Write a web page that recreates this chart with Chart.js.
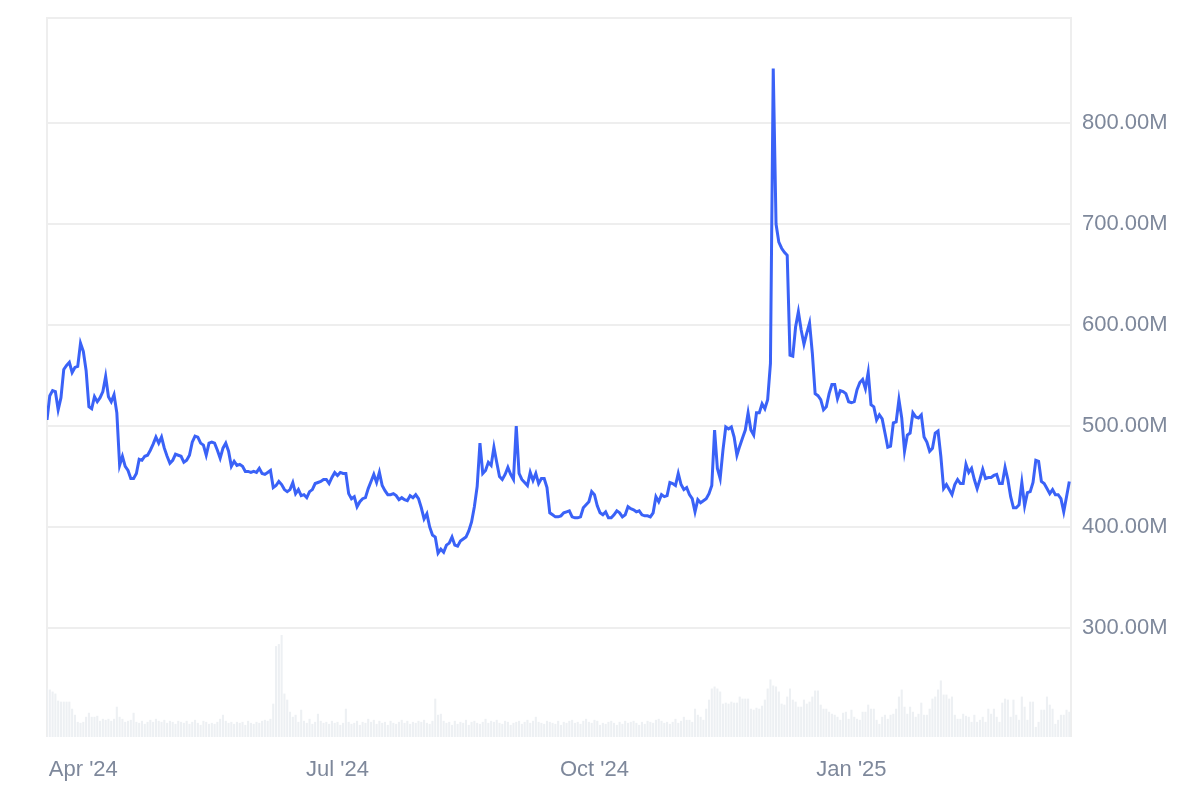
<!DOCTYPE html>
<html>
<head>
<meta charset="utf-8">
<title>Market cap</title>
<script src="https://cdn.jsdelivr.net/npm/chart.js@4.4.1/dist/chart.umd.min.js"></script>
<style>
    html, body { margin: 0; padding: 0; background: #ffffff; }
    #wrap { width: 1200px; height: 800px; }
</style>
</head>
<body>
<div id="wrap"><canvas id="chart" width="1200" height="800"></canvas></div>
<script>
// Daily series, one value per day starting at startDate
const startDate = '2024-03-19';

// Market cap, millions USD
const price = [
    506, 530, 535, 534, 516, 528, 556, 560, 563, 553,
    558, 559, 582, 574, 555, 519, 517, 529, 524, 528,
    534, 549, 529, 524, 531, 513, 461, 470, 460, 456,
    448, 448, 453, 467, 466, 470, 471, 476, 482, 489,
    483, 489, 478, 470, 463, 466, 472, 471, 470, 464,
    466, 471, 484, 490, 489, 483, 481, 471, 483, 484,
    483, 476, 468, 478, 483, 475, 460, 465, 461, 462,
    460, 455, 455, 454, 455, 454, 458, 453, 452, 454,
    456, 439, 441, 445, 442, 437, 435, 437, 444, 433,
    437, 431, 432, 429, 435, 437, 443, 444, 445, 447,
    447, 443, 449, 454, 451, 454, 453, 453, 433, 428,
    430, 420, 425, 428, 429, 438, 445, 452, 444, 454,
    441, 436, 432, 432, 433, 431, 427, 429, 427, 426,
    431, 429, 432, 428, 419, 408, 413, 400, 392, 390,
    374, 378, 375, 382, 384, 390, 382, 381, 386, 388,
    390, 396, 405, 420, 440, 483, 453, 456, 464, 461,
    479, 464, 450, 447, 452, 459, 452, 447, 500, 453,
    447, 444, 441, 454, 446, 453, 443, 448, 448, 439,
    414, 412, 410, 410, 411, 414, 415, 416, 410, 409,
    409, 410, 419, 422, 425, 435, 432, 421, 414, 412,
    415, 409, 409, 412, 416, 414, 410, 412, 420, 418,
    417, 415, 416, 412, 411, 411, 410, 414, 430, 425,
    432, 430, 431, 444, 443, 441, 453, 442, 437, 439,
    432, 428, 415, 427, 424, 426, 428, 433, 441, 496,
    458, 448, 476, 499, 497, 499, 489, 471, 480, 488,
    496, 513, 496, 491, 513, 513, 522, 517, 526, 562,
    854, 700, 682, 676, 672, 669, 570, 569, 598, 613,
    595, 581, 592, 602, 572, 532, 530, 526, 516, 519,
    532, 541, 541, 527, 535, 534, 532, 524, 523, 524,
    536, 543, 546, 537, 553, 521, 519, 506, 511, 507,
    493, 479, 480, 503, 504, 526, 508, 475, 491, 493,
    513, 509, 508, 511, 489, 484, 475, 478, 493, 495,
    470, 438, 442, 437, 432, 442, 447, 443, 443, 462,
    454, 458, 447, 438, 447, 457, 448, 449, 449, 451,
    452, 443, 443, 459, 447, 430, 419, 419, 422, 444,
    421, 434, 435, 444, 466, 465, 445, 443, 438, 433,
    437, 432, 432, 428, 415, 430, 445
];

// Trading volume, millions USD
const volume = [
    48, 47, 45, 43, 36, 35, 35, 35, 35, 28,
    22, 15, 14, 15, 20, 24, 20, 20, 21, 16,
    18, 17, 18, 16, 18, 30, 20, 18, 15, 16,
    17, 24, 15, 14, 16, 13, 15, 17, 15, 18,
    16, 15, 17, 14, 16, 15, 13, 16, 15, 14,
    16, 13, 15, 17, 14, 12, 16, 15, 13, 14,
    13, 15, 18, 22, 16, 14, 15, 13, 15, 14,
    15, 12, 16, 14, 13, 15, 14, 16, 17, 16,
    18, 33, 90, 92, 101, 43, 37, 25, 20, 22,
    15, 27, 16, 14, 18, 13, 15, 23, 16, 14,
    15, 13, 16, 14, 15, 12, 14, 28, 15, 13,
    14, 16, 12, 15, 14, 18, 15, 17, 13, 16,
    14, 15, 12, 16, 14, 13, 15, 17, 14, 16,
    13, 15, 14, 16, 15, 17, 14, 13, 16, 38,
    22, 23, 16, 14, 15, 12, 16, 13, 15, 14,
    17, 12, 15, 16, 14, 13, 15, 18, 14, 16,
    15, 17, 14, 13, 16, 15, 12, 14, 15, 16,
    13, 15, 17, 14, 16, 20, 15, 14, 13, 16,
    15, 14, 13, 16, 12, 15, 14, 16, 17, 14,
    15, 13, 16, 18, 15, 14, 17, 16, 12, 14,
    13, 15, 16, 14, 12, 15, 13, 16, 14, 15,
    16, 14, 12, 15, 13, 16, 15, 14, 17, 18,
    16, 14, 15, 13, 15, 18, 14, 16, 20, 17,
    17, 15, 28, 22, 20, 17, 28, 37, 48, 50,
    48, 45, 33, 34, 33, 35, 34, 34, 40, 38,
    38, 38, 28, 27, 29, 28, 31, 37, 48, 57,
    51, 50, 45, 33, 32, 40, 48, 37, 35, 30,
    30, 37, 33, 35, 40, 46, 46, 32, 28, 28,
    25, 23, 22, 20, 17, 24, 25, 18, 27, 20,
    18, 17, 25, 25, 32, 28, 28, 17, 13, 20,
    22, 18, 22, 23, 28, 40, 47, 30, 23, 30,
    25, 20, 23, 34, 22, 22, 28, 38, 40, 47,
    56, 42, 42, 38, 40, 22, 18, 18, 23, 21,
    20, 15, 22, 15, 17, 20, 15, 28, 23, 28,
    20, 15, 34, 38, 37, 20, 37, 22, 17, 40,
    30, 17, 35, 35, 10, 15, 27, 27, 40, 32,
    28, 13, 17, 22, 22, 27, 25
];

// Axis ticks
const tickDates = ['2024-04-01', '2024-07-01', '2024-10-01', '2025-01-01'];
const tickLabels = ["Apr '24", "Jul '24", "Oct '24", "Jan '25"];
const priceTicks = [300, 400, 500, 600, 700, 800];

const DAY = 24 * 60 * 60 * 1000;
function dayOffset(dateStr) {
    return Math.round((Date.parse(dateStr) - Date.parse(startDate)) / DAY);
}
const tickDays = tickDates.map(dayOffset);

const textColor = '#7e889b';
const gridColor = '#eeeeee';
const font = { family: '"Liberation Sans", Arial, sans-serif', size: 22 };

// Frame around the plot area (left, top, right)
const framePlugin = {
    id: 'frame',
    beforeDatasetsDraw(chart) {
        const a = chart.chartArea;
        const ctx = chart.ctx;
        ctx.save();
        ctx.strokeStyle = gridColor;
        ctx.lineWidth = 2;
        ctx.beginPath();
        ctx.moveTo(a.left, a.bottom);
        ctx.lineTo(a.left, a.top);
        ctx.lineTo(a.right, a.top);
        ctx.lineTo(a.right, a.bottom);
        ctx.stroke();
        ctx.restore();
    }
};

new Chart(document.getElementById('chart'), {
    data: {
        datasets: [{
            type: 'line',
            label: 'Market Cap',
            data: price.map((v, i) => ({ x: i, y: v })),
            yAxisID: 'y',
            borderColor: '#3a62f7',
            borderWidth: 3,
            pointRadius: 0,
            tension: 0,
            order: 1
        }, {
            type: 'bar',
            label: 'Volume',
            data: volume.map((v, i) => ({ x: i, y: v })),
            yAxisID: 'yv',
            backgroundColor: '#edf0f3',
            barPercentage: 0.75,
            categoryPercentage: 1,
            order: 2
        }]
    },
    options: {
        responsive: false,
        animation: false,
        layout: { padding: { left: 47, top: 18, right: 0, bottom: 0 } },
        plugins: {
            legend: { display: false },
            tooltip: { enabled: false }
        },
        scales: {
            x: {
                type: 'linear',
                offset: false,
                min: 0,
                max: price.length - 0.4,
                grid: { display: false, offset: false },
                border: { display: false },
                afterBuildTicks: scale => {
                    scale.ticks = tickDays.map(d => ({ value: d }));
                },
                afterFit: scale => { scale.height = 63; },
                ticks: {
                    color: textColor,
                    font: font,
                    padding: 12,
                    maxRotation: 0,
                    autoSkip: false,
                    callback: (value) => tickLabels[tickDays.indexOf(value)]
                }
            },
            y: {
                position: 'right',
                min: 192,
                max: 904,
                grid: { color: gridColor, lineWidth: 2, drawTicks: false },
                border: { display: false },
                afterBuildTicks: scale => {
                    scale.ticks = priceTicks.map(v => ({ value: v }));
                },
                afterFit: scale => {
                    scale.width = 129;
                    scale.paddingTop = 0;
                    scale.paddingBottom = 0;
                },
                ticks: {
                    color: textColor,
                    font: font,
                    padding: 11,
                    callback: (value) => value.toFixed(2) + 'M'
                }
            },
            yv: {
                display: false,
                min: 0,
                max: 712
            }
        }
    },
    plugins: [framePlugin]
});
</script>
</body>
</html>
